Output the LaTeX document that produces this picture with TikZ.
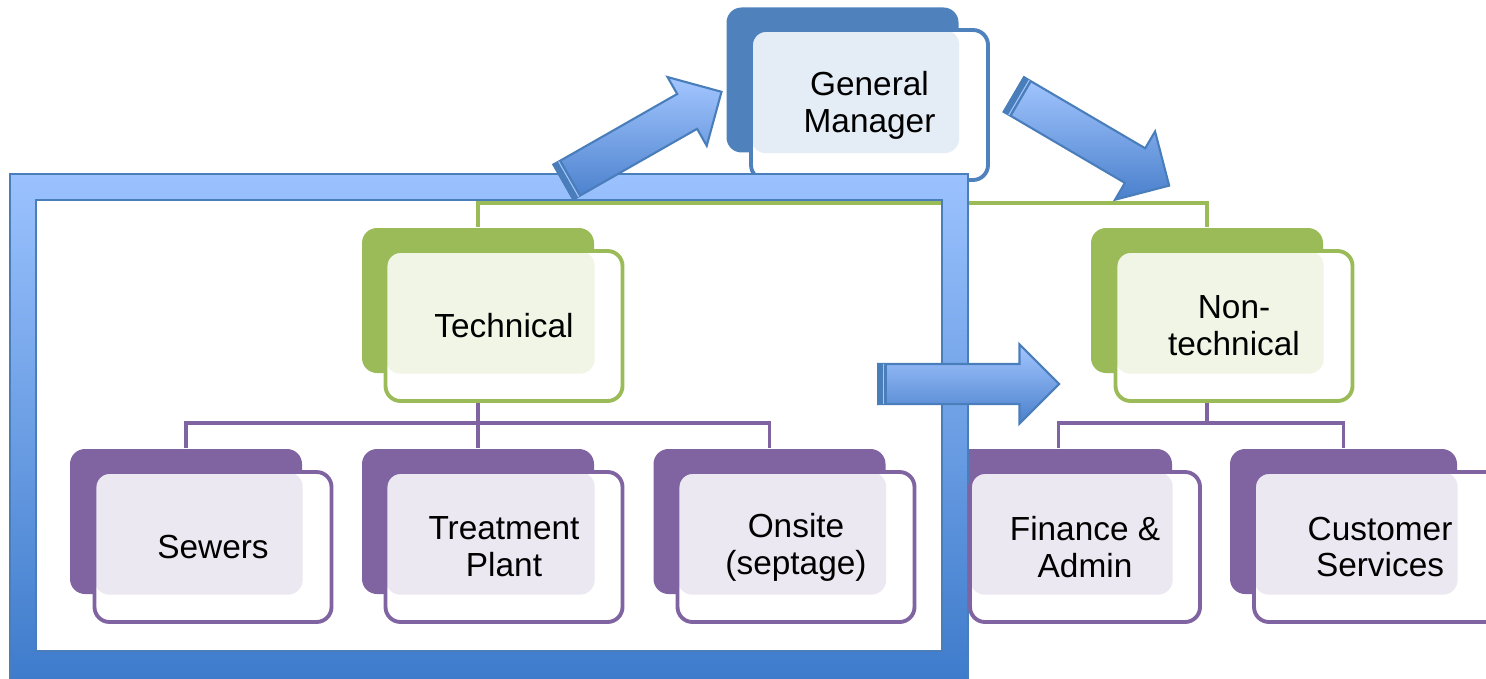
\documentclass[tikz,border=0pt]{standalone}
\usepackage{fontspec}
\setmainfont{Liberation Sans}
\usetikzlibrary{shapes.arrows,calc}

\definecolor{gmblue}{HTML}{4F81BD}
\definecolor{levgreen}{HTML}{9BBB59}
\definecolor{unitpurple}{HTML}{8064A2}
\definecolor{framelight}{HTML}{9BC2FE}
\definecolor{framedark}{HTML}{3C7ACA}
\definecolor{frameedge}{HTML}{4A7EBB}
\definecolor{arrowlight}{HTML}{A3C6FF}
\definecolor{arrowdark}{HTML}{4A80CC}

\begin{document}
\begin{tikzpicture}[x=0.1mm,y=-0.1mm]

    \tikzset{unitback/.style={fill=#1,rounded corners=1.5mm,minimum width=23.2mm,minimum height=14.5mm,inner sep=0pt},
        unitfront/.style 2 args={draw=#1,line width=1.1pt,fill=white,rounded corners=1.5mm,
            minimum width=23.7mm,minimum height=15mm,inner sep=0pt,align=center,
            font=\fontsize{9.5}{10.5}\selectfont,
            path picture={\fill[#1!15,rounded corners=1.5mm] (path picture bounding box.north west) rectangle (#2.south east);}},
        bigarrow/.style={single arrow,draw=frameedge,line width=0.6pt,top color=arrowlight,bottom color=arrowdark,
            inner sep=0pt,inner ysep=1.9mm,single arrow head extend=1.95mm,single arrow tip angle=90,anchor=tail}}
    \useasboundingbox (0,0) rectangle (1486,678);

    % top
    \node[unitback=gmblue] (gmb) at (842.5,80) {};
    \node[unitfront={gmblue}{gmb}] (gm) at (869.5,105) {General\\Manager};

    % second level
    \node[unitback=levgreen] (techb) at (478,300.5) {};
    \node[unitfront={levgreen}{techb}] (tech) at (504,326) {Technical};
    \node[unitback=levgreen] (nontechb) at (1207,300.5) {};
    \node[unitfront={levgreen}{nontechb}] (nontech) at (1234,326) {Non-\\technical};

    % third level
    \node[unitback=unitpurple] (sewersb) at (186,521.5) {};
    \node[unitfront={unitpurple}{sewersb}] (sewers) at (213,547) {Sewers};
    \node[unitback=unitpurple] (plantb) at (478,521.5) {};
    \node[unitfront={unitpurple}{plantb}] (plant) at (504,547) {Treatment\\Plant};
    \node[unitback=unitpurple] (onsiteb) at (769.5,521.5) {};
    \node[unitfront={unitpurple}{onsiteb}] (onsite) at (796,547) {Onsite\\(septage)};
    \node[unitback=unitpurple,minimum width=22.7mm] (financeb) at (1058.5,521.5) {};
    \node[unitback=unitpurple,minimum width=22.7mm] (custb) at (1343.5,521.5) {};
    \node[unitfront={unitpurple}{custb},minimum width=25.2mm] (cust) at (1380,547) {Customer\\Services};

    \coordinate (tj) at (478,423);
    \coordinate (gj) at (840,203);
    \begin{scope}[every path/.style={draw=unitpurple,line width=1.1pt}]
        \draw (techb |- tech.south) -- (plantb.north);
        \draw (sewersb.north) -- (sewersb |- tj) -- (onsiteb |- tj) -- (onsiteb.north);
        \draw (nontechb |- nontech.south) -- (nontechb |- tj);
        \draw (financeb.north) -- (financeb |- tj) -- (custb |- tj) -- (custb.north);
    \end{scope}
    \draw[levgreen,line width=1.4pt] (techb.north) -- (techb |- gj) -- (nontechb |- gj) -- (nontechb.north);

    % frame round the technical side
    \shade[even odd rule,top color=framelight,bottom color=framedark] (10,174) rectangle (968,690) (36,200) rectangle (942,651);
    \draw[frameedge,line width=0.7pt] (10,174) rectangle (968,690) (36,200) rectangle (942,651);

    \node[unitfront={unitpurple}{financeb},minimum width=23mm] (finance) at (1085,547) {Finance \&\\Admin};

    % block arrows
    \node[bigarrow,rotate=29.7,minimum height=18.2mm] (upar) at (562.5,182.5) {};
    \node[bigarrow,rotate=-30.4,minimum height=18mm] (downar) at (1013,94) {};
    \node[bigarrow,minimum height=18.1mm] (rightar) at (877,384) {};
    \foreach \ar in {upar,downar,rightar} {
        \fill[frameedge] (\ar.before tail) -- (\ar.after tail) -- ($(\ar.after tail)!1mm!(\ar.tip)$) -- ($(\ar.before tail)!1mm!(\ar.tip)$) -- cycle;
        \draw[arrowlight,line width=0.3pt] ($(\ar.after tail)!0.7mm!(\ar.tip)$) -- ($(\ar.before tail)!0.7mm!(\ar.tip)$);
    }
\end{tikzpicture}
\end{document}
